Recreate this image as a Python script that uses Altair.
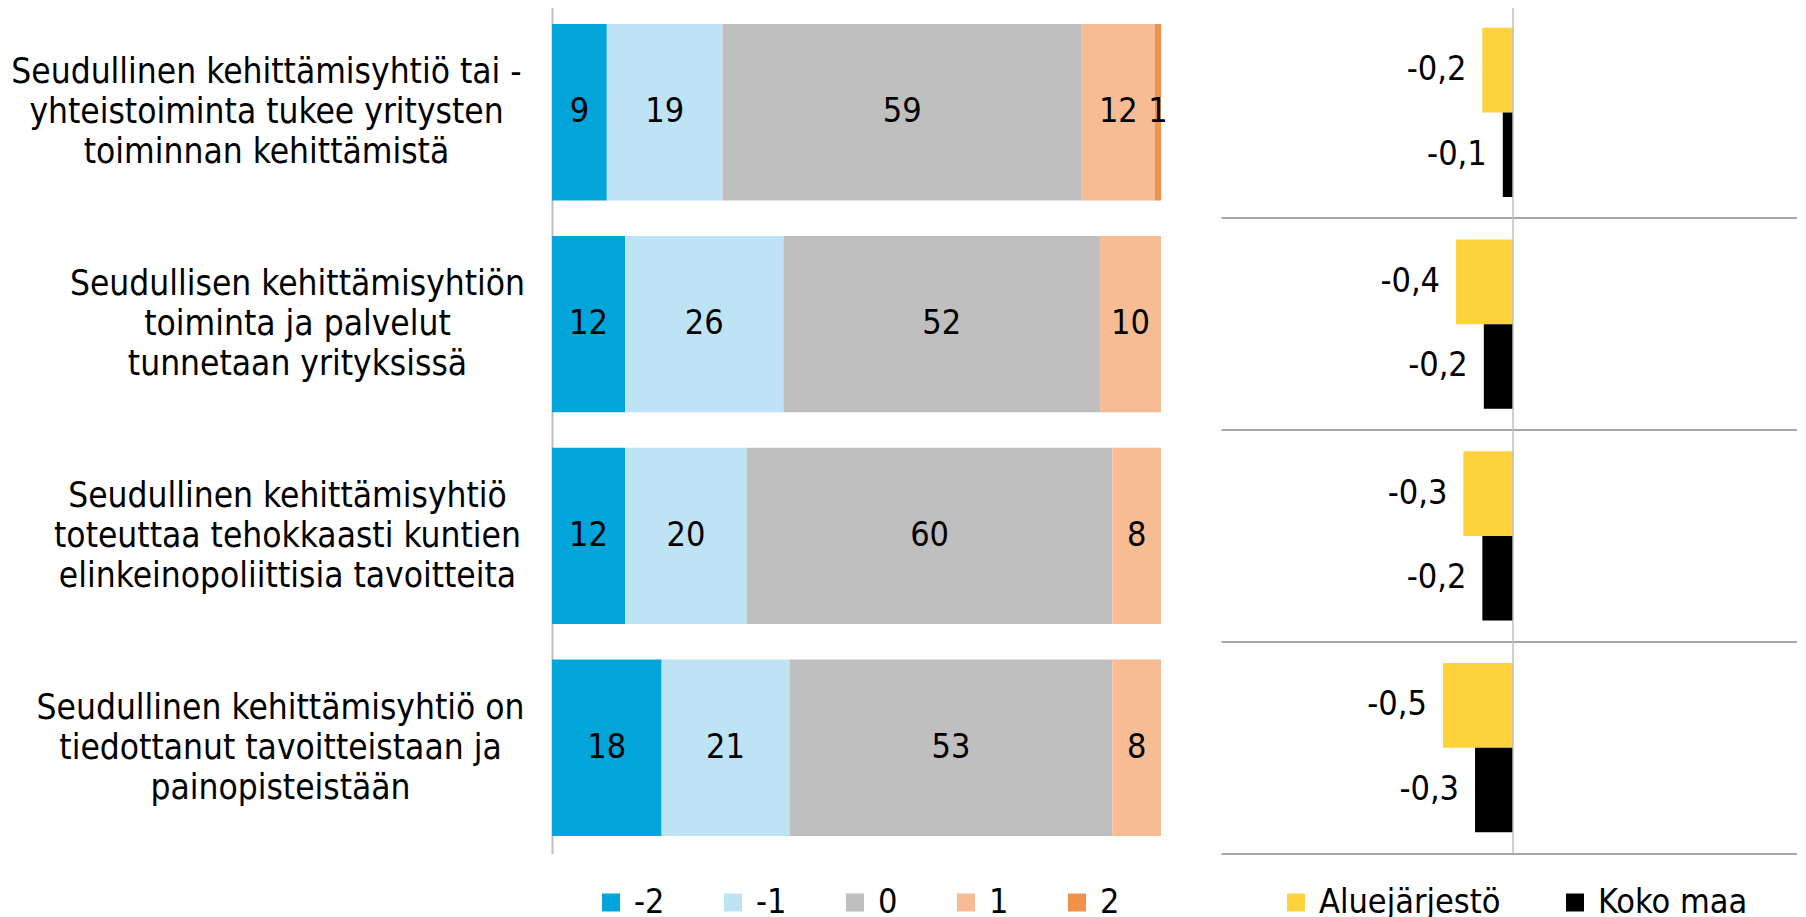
import altair as alt
import pandas as pd

# ---------------- data ----------------
categories = [
    "Seudullinen kehittämisyhtiö tai -|yhteistoiminta tukee yritysten|toiminnan kehittämistä",
    "Seudullisen kehittämisyhtiön|toiminta ja palvelut|tunnetaan yrityksissä",
    "Seudullinen kehittämisyhtiö|toteuttaa tehokkaasti kuntien|elinkeinopoliittisia tavoitteita",
    "Seudullinen kehittämisyhtiö on|tiedottanut tavoitteistaan ja|painopisteistään",
]
levels = ["-2", "-1", "0", "1", "2"]
share_m2 = [9, 12, 12, 18]
share_m1 = [19, 26, 20, 21]
share_0 = [59, 52, 60, 53]
share_p1 = [12, 10, 8, 8]
share_p2 = [1, 0, 0, 0]

mean_series = ["Aluejärjestö", "Koko maa"]
mean_alue = [-0.21, -0.39, -0.34, -0.48]
mean_koko = [-0.07, -0.20, -0.21, -0.26]

level_colors = ["#02A5DA", "#BEE3F5", "#BFBFBF", "#F7BC93", "#F0924A"]
mean_colors = ["#FED23A", "#000000"]

FONT = "DejaVu Sans Condensed, Liberation Sans Narrow, Lato, sans-serif"
FS_CAT = 35
FS_NUM = 34
FS_LEG = 34

# ---------------- tables ----------------
shares = [share_m2, share_m1, share_0, share_p1, share_p2]
rows = []
for ci, cat in enumerate(categories):
    for li, lev in enumerate(levels):
        rows.append({"category": cat, "level": lev, "order": li, "value": shares[li][ci]})
dist = pd.DataFrame(rows)

mrows = []
for ci, cat in enumerate(categories):
    mrows.append({"category": cat, "series": mean_series[0], "value": mean_alue[ci]})
    mrows.append({"category": cat, "series": mean_series[1], "value": mean_koko[ci]})
means = pd.DataFrame(mrows)

# per-label horizontal offset so that each label block is centred on itself
pads = [286, 255, 265, 272]
pad_cond = {
    "condition": [
        {"test": "datum.value == '" + categories[i] + "'", "value": pads[i]}
        for i in range(3)
    ],
    "value": pads[3],
}

# ---------------- left: distribution ----------------
y_left = alt.Y(
    "category:N",
    sort=categories,
    title=None,
    scale=alt.Scale(paddingInner=0.167, paddingOuter=0.083),
    axis=alt.Axis(
        labelExpr="split(datum.label, '|')",
        labelAlign="center",
        labelBaseline="middle",
        labelPadding=pad_cond,
        labelOffset=-40,
        labelFont=FONT,
        labelFontSize=FS_CAT,
        labelLineHeight=40,
        labelColor="black",
        labelLimit=0,
        ticks=False,
        domainColor="#BFBFBF",
        domainWidth=2,
        minExtent=544,
        maxExtent=544,
    ),
)

x_left = alt.X(
    "value:Q",
    stack="zero",
    scale=alt.Scale(domain=[0, 100], nice=False),
    axis=None,
)


def make_legend(x, y, cp):
    return alt.Legend(
        orient="none",
        legendX=x,
        legendY=y,
        direction="horizontal",
        title=None,
        symbolType="square",
        symbolSize=324,
        symbolStrokeWidth=0,
        labelFont=FONT,
        labelFontSize=FS_LEG,
        labelColor="black",
        labelOffset=6,
        labelLimit=0,
        columnPadding=cp,
        padding=0,
    )


bars = alt.Chart(dist).mark_bar().encode(
    y=y_left,
    x=x_left,
    color=alt.Color(
        "level:N",
        scale=alt.Scale(domain=levels, range=level_colors),
        legend=make_legend(42, 879, 51),
    ),
    order=alt.Order("order:Q"),
)

bar_text = (
    alt.Chart(dist)
    .transform_window(
        cum="sum(value)",
        groupby=["category"],
        sort=[alt.SortField("order")],
        frame=[None, 0],
    )
    .transform_calculate(mid="datum.cum - datum.value / 2")
    .transform_filter("datum.value > 0")
    .mark_text(font=FONT, fontSize=FS_NUM, color="black", baseline="middle", align="center")
    .encode(
        y=alt.Y("category:N", sort=categories),
        x=alt.X("mid:Q"),
        text=alt.Text("value:Q"),
    )
)

left = alt.layer(bars, bar_text).properties(width=609, height=847)

# ---------------- right: means ----------------
y_right = alt.Y(
    "category:N",
    sort=categories,
    title=None,
    scale=alt.Scale(paddingInner=0, paddingOuter=0),
    axis=alt.Axis(
        labels=False,
        ticks=False,
        domain=False,
        grid=True,
        bandPosition=0,
        gridColor="#A6A6A6",
        gridWidth=2,
        minExtent=0,
        maxExtent=0,
    ),
)
x_right = alt.X(
    "value:Q",
    scale=alt.Scale(domain=[-2, 1.945], nice=False, zero=True),
    axis=alt.Axis(
        labels=False,
        ticks=False,
        grid=False,
        domainColor="#A6A6A6",
        domainWidth=2,
        title=None,
    ),
)
y_off = alt.YOffset(
    "series:N",
    sort=mean_series,
    scale=alt.Scale(paddingOuter=0.25, paddingInner=0),
)

mbars = alt.Chart(means).mark_bar().encode(
    y=y_right,
    x=x_right,
    yOffset=y_off,
    color=alt.Color(
        "series:N",
        scale=alt.Scale(domain=mean_series, range=mean_colors),
        legend=make_legend(58, 879, 57),
    ),
)

mtext = (
    alt.Chart(means)
    .transform_calculate(
        lab="replace(replace(format(datum.value, '.1f'), '.', ','), '\u2212', '-')"
    )
    .mark_text(font=FONT, fontSize=FS_NUM, color="black", align="right", baseline="middle", dx=-16)
    .encode(
        y=alt.Y("category:N", sort=categories),
        x=alt.X("value:Q"),
        yOffset=y_off,
        text="lab:N",
    )
)

zero = alt.Chart(pd.DataFrame({"z": [0]})).mark_rule(color="#BFBFBF", strokeWidth=1.5).encode(
    x=alt.X("z:Q")
)

right = alt.layer(mbars, zero, mtext).properties(width=576, height=847)

base = (
    alt.hconcat(left, right, spacing=60, bounds="flush")
    .resolve_scale(color="independent", y="independent", x="independent")
)

chart = None
for pad in [
    {"left": 0, "top": -2.5, "right": 0, "bottom": 0},
    alt.ExprRef(expr="{left: 0, top: -2.5, right: 0, bottom: 0}"),
    {"left": 0, "top": 0, "right": 0, "bottom": 0},
]:
    try:
        c = base.properties(padding=pad).configure_view(stroke=None)
        c.to_dict()
        chart = c
        break
    except Exception:
        continue

chart.save("out.html", embed_options={"renderer": "svg", "actions": False})
